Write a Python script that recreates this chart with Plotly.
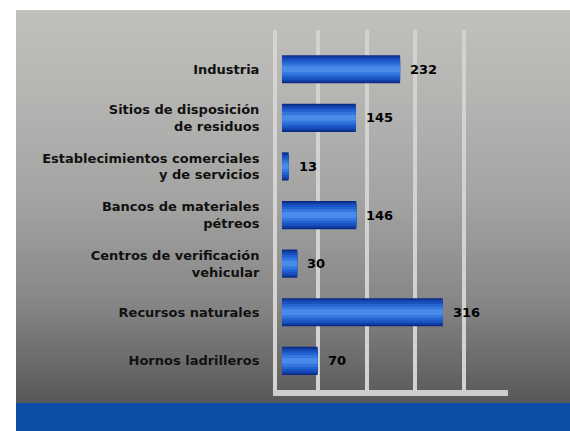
import plotly.graph_objects as go

categories = [
    "Industria",
    "Sitios de disposición<br>de residuos",
    "Establecimientos comerciales<br>y de servicios",
    "Bancos de materiales<br>pétreos",
    "Centros de verificación<br>vehicular",
    "Recursos naturales",
    "Hornos ladrilleros",
]
values = [232, 145, 13, 146, 30, 316, 70]
value_labels = ["232", "145", "13", "146", "30", "316", "70"]

W, H = 570, 431

def fx(px):
    return px / W

def fy(py):
    return 1 - py / H

fig = go.Figure()

# bar with pseudo-cylindrical shading: stacked overlays of decreasing width
layers = [(0.58, "#0a2a86"), (0.52, "#1240a8"), (0.44, "#1a52c2"),
          (0.34, "#2363d2"), (0.24, "#3276de"), (0.12, "#4a8ae8")]
for w, c in layers:
    fig.add_trace(go.Bar(
        y=categories, x=values, orientation="h", width=w,
        marker=dict(color=c, line=dict(width=0)),
        hoverinfo="skip", showlegend=False,
    ))

for cat, v, t in zip(categories, values, value_labels):
    fig.add_annotation(x=v, y=cat, text=t, showarrow=False, xanchor="left",
                       xshift=8, font=dict(family="DejaVu Sans", size=13,
                                           color="#000000", weight="bold"))

# background gradient stripes
stops = [(10, (192, 193, 189)), (100, (180, 180, 178)), (200, (163, 163, 162)),
         (300, (135, 135, 135)), (403, (88, 88, 90))]
shapes = []
y = 10
step = 4
while y < 403:
    yc = y + step / 2
    for i in range(len(stops) - 1):
        if stops[i][0] <= yc <= stops[i + 1][0]:
            t = (yc - stops[i][0]) / (stops[i + 1][0] - stops[i][0])
            c = tuple(round(stops[i][1][k] + t * (stops[i + 1][1][k] - stops[i][1][k])) for k in range(3))
            break
    shapes.append(dict(type="rect", xref="paper", yref="paper", x0=fx(16), x1=1,
                       y0=fy(min(y + step, 403)), y1=fy(y), layer="below",
                       line=dict(width=0), fillcolor="rgb(%d,%d,%d)" % c))
    y += step
shapes.append(dict(type="rect", xref="paper", yref="paper", x0=fx(16), x1=1,
                   y0=0, y1=fy(403), layer="below", line=dict(width=0),
                   fillcolor="#0d4fa8"))

fig.update_layout(
    width=W, height=H, autosize=False,
    margin=dict(l=0, r=0, t=0, b=0, pad=0),
    paper_bgcolor="white", plot_bgcolor="rgba(0,0,0,0)",
    barmode="overlay", shapes=shapes,
    xaxis=dict(domain=[fx(277), fx(508)], range=[-9.8, 444],
               showticklabels=False, ticks="", zeroline=False,
               showgrid=True, gridcolor="#d2d2d0", gridwidth=4,
               tick0=70.7, dtick=95.5,
               showline=True, linecolor="#cdcdcb", linewidth=6),
    yaxis=dict(domain=[fy(390), fy(30)], range=[6.60, -0.807],
               type="category", showgrid=False, zeroline=False,
               showline=True, linecolor="#d4d4d2", linewidth=4,
               ticks="", ticklabelstandoff=11,
               tickfont=dict(family="DejaVu Sans", size=13,
                             color="#111111", weight="bold")),
)

fig.write_html("out.html", config={"displayModeBar": False},
               post_script="document.body.style.margin='0px';")
